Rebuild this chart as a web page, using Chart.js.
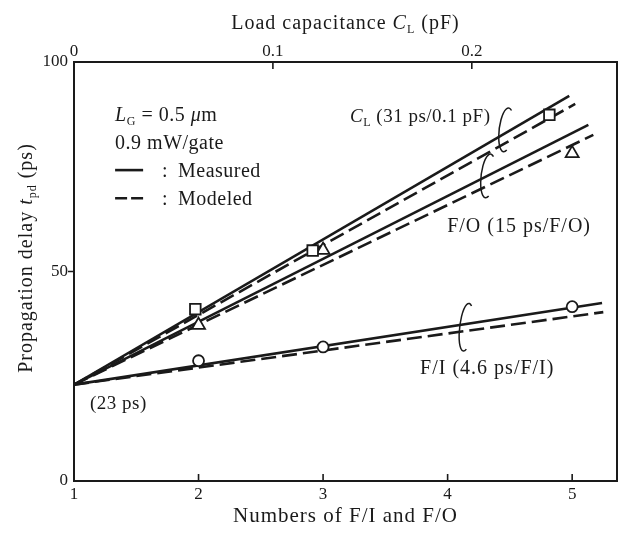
<!DOCTYPE html>
<html>
<head>
<meta charset="utf-8">
<script src="https://cdn.jsdelivr.net/npm/chart.js@4/dist/chart.umd.min.js"></script>
<style>
  html, body { margin: 0; padding: 0; background: #fff; }
  #wrap { width: 620px; height: 535px; }
</style>
</head>
<body>
<div id="wrap"><canvas id="c" width="620" height="535"></canvas></div>
<script>
// Measured delays (ps) versus fan count and load capacitance
const fanCounts = [2, 3, 5];
const fanOutDelay = [37.2, 55.1, 78.2];
const fanInDelay = [28.7, 32.0, 41.6];
const loadCaps = [0.061, 0.120, 0.239];          // pF
const loadDelay = [41.0, 55.0, 87.4];

// Straight-line fits: all start at the intrinsic delay
const intrinsicDelay = 23;
const loadFitEnd = [0.249, 0.252];               // pF: measured, modeled
const loadFitDelay = [91.9, 90.0];
const fanOutFitEnd = [5.13, 5.17];
const fanOutFitDelay = [85.0, 82.6];
const fanInFitEnd = [5.24, 5.25];
const fanInFitDelay = [42.5, 40.3];

// Axis ticks
const fanTicks = [1, 2, 3, 4, 5];
const capTicks = [0, 0.1, 0.2];
const delayTicks = [0, 50, 100];

const SERIF = '"Liberation Serif", "Times New Roman", serif';
const INK = '#1a1a1a';

function fitLine(x0, xs, ys, i) {
  return [{ x: x0, y: intrinsicDelay }, { x: xs[i], y: ys[i] }];
}
function pts(xs, ys) { return xs.map((x, i) => ({ x, y: ys[i] })); }

function lineSet(data, dashed, axis) {
  return {
    type: 'scatter', data, xAxisID: axis, showLine: true,
    borderColor: INK, borderWidth: 2.6, borderDash: dashed ? [15, 6] : [],
    pointRadius: 0, pointHoverRadius: 0, order: 2
  };
}
function markerSet(data, style, r, axis) {
  return {
    type: 'scatter', data, xAxisID: axis, showLine: false,
    pointStyle: style, pointRadius: r, pointHoverRadius: r,
    pointBackgroundColor: '#fff', pointBorderColor: INK, pointBorderWidth: 1.8,
    order: 0
  };
}

// Draws a run of text pieces: plain, italic, or subscript
function drawRich(ctx, parts, x, y, size, align) {
  const fontOf = p => (p.i ? 'italic ' : '') + (p.sub ? Math.round(size * 0.62) : size) + 'px ' + SERIF;
  let total = 0;
  parts.forEach(p => { ctx.font = fontOf(p); total += ctx.measureText(p.t).width; });
  let cx = align === 'center' ? x - total / 2 : x;
  ctx.textAlign = 'left';
  ctx.textBaseline = 'alphabetic';
  parts.forEach(p => {
    ctx.font = fontOf(p);
    ctx.fillText(p.t, cx, y + (p.sub ? size * 0.2 : 0));
    cx += ctx.measureText(p.t).width;
  });
}

function setSpacing(ctx, px) {
  try { ctx.letterSpacing = px + 'px'; } catch (e) {}
}

const decorations = {
  id: 'decorations',
  afterDraw(chart) {
    const ctx = chart.ctx;
    const sx = chart.scales.x, sx2 = chart.scales.x2, sy = chart.scales.y;
    const area = chart.chartArea;
    const X = v => sx.getPixelForValue(v), Y = v => sy.getPixelForValue(v);
    ctx.save();
    ctx.strokeStyle = INK;
    ctx.fillStyle = INK;

    // tick marks: inward on the bottom and top axes, outward on the left
    ctx.lineWidth = 1.6;
    ctx.beginPath();
    sx.ticks.forEach(t => {
      if (t.value === sx.min) return;
      const px = X(t.value);
      ctx.moveTo(px, area.bottom); ctx.lineTo(px, area.bottom - 7);
    });
    sx2.ticks.forEach(t => {
      if (t.value === sx2.min) return;
      const px = sx2.getPixelForValue(t.value);
      ctx.moveTo(px, area.top); ctx.lineTo(px, area.top + 7);
    });
    sy.ticks.forEach(t => {
      if (t.value === sy.min || t.value === sy.max) return;
      const py = Y(t.value);
      ctx.moveTo(area.left, py); ctx.lineTo(area.left - 6, py);
    });
    ctx.stroke();

    // group brackets around the fitted lines
    ctx.lineWidth = 1.5;
    [[4.47, 83.8, 7, 22], [4.325, 72.8, 7, 22], [4.149, 36.7, 6.5, 24]].forEach(([bx, by, rx, ry]) => {
      ctx.beginPath();
      ctx.ellipse(X(bx), Y(by), rx, ry, 0.12, -0.36 * Math.PI, 0.36 * Math.PI, true);
      ctx.stroke();
    });

    // text inside the plot
    setSpacing(ctx, 0.5);
    const S = 20;
    drawRich(ctx, [{ t: 'L', i: true }, { t: 'G', sub: true }, { t: ' = 0.5 ' }, { t: 'μ', i: true }, { t: 'm' }], X(1.33), Y(87.6) + 7, S);
    drawRich(ctx, [{ t: '0.9 mW/gate' }], X(1.33), Y(80.9) + 7, S);
    drawRich(ctx, [{ t: ':' }], X(1.707), Y(74.2) + 7, S);
    drawRich(ctx, [{ t: 'Measured' }], X(1.835), Y(74.2) + 7, S);
    drawRich(ctx, [{ t: ':' }], X(1.707), Y(67.5) + 7, S);
    drawRich(ctx, [{ t: 'Modeled' }], X(1.835), Y(67.5) + 7, S);
    drawRich(ctx, [{ t: '(23 ps)' }], X(1.128), Y(18.9) + 7, 19);
    drawRich(ctx, [{ t: 'C', i: true }, { t: 'L', sub: true }, { t: ' (31 ps/0.1 pF)' }], X(3.217), Y(87.35) + 7, 19);
    setSpacing(ctx, 1);
    drawRich(ctx, [{ t: 'F/O (15 ps/F/O)' }], X(3.996), Y(61.1) + 7, 20);
    drawRich(ctx, [{ t: 'F/I (4.6 ps/F/I)' }], X(3.779), Y(27.2) + 7, 20);

    // legend line samples
    ctx.lineWidth = 2.6;
    ctx.beginPath();
    ctx.moveTo(X(1.33), Y(74.2)); ctx.lineTo(X(1.555), Y(74.2));
    ctx.stroke();
    ctx.setLineDash([12, 4]);
    ctx.beginPath();
    ctx.moveTo(X(1.33), Y(67.5)); ctx.lineTo(X(1.555), Y(67.5));
    ctx.stroke();
    ctx.setLineDash([]);

    // axis titles
    setSpacing(ctx, 1);
    const cxp = (area.left + area.right) / 2;
    drawRich(ctx, [{ t: 'Load capacitance ' }, { t: 'C', i: true }, { t: 'L', sub: true }, { t: ' (pF)' }], cxp, 29, S, 'center');
    drawRich(ctx, [{ t: 'Numbers of F/I and F/O' }], cxp, 522, 21, 'center');
    ctx.translate(32, 258);
    ctx.rotate(-Math.PI / 2);
    drawRich(ctx, [{ t: 'Propagation delay ' }, { t: 't', i: true }, { t: 'pd', sub: true }, { t: ' (ps)' }], 0, 0, S, 'center');
    ctx.restore();
  }
};

const tickFont = { family: SERIF, size: 17 };
const borderStyle = { display: true, color: INK, width: 2 };

new Chart(document.getElementById('c'), {
  type: 'scatter',
  data: {
    datasets: [
      lineSet(fitLine(0, loadFitEnd, loadFitDelay, 0), false, 'x2'),
      lineSet(fitLine(0, loadFitEnd, loadFitDelay, 1), true, 'x2'),
      lineSet(fitLine(1, fanOutFitEnd, fanOutFitDelay, 0), false, 'x'),
      lineSet(fitLine(1, fanOutFitEnd, fanOutFitDelay, 1), true, 'x'),
      lineSet(fitLine(1, fanInFitEnd, fanInFitDelay, 0), false, 'x'),
      lineSet(fitLine(1, fanInFitEnd, fanInFitDelay, 1), true, 'x'),
      markerSet(pts(loadCaps, loadDelay), 'rect', 7.5, 'x2'),
      markerSet(pts(fanCounts, fanOutDelay), 'triangle', 7.5, 'x'),
      markerSet(pts(fanCounts, fanInDelay), 'circle', 5.5, 'x')
    ]
  },
  options: {
    responsive: false,
    animation: false,
    devicePixelRatio: 1,
    layout: { padding: 0, autoPadding: false },
    plugins: { legend: { display: false }, tooltip: { enabled: false } },
    scales: {
      x: {
        type: 'linear', position: 'bottom', min: 1, max: 5.36,
        afterBuildTicks: s => { s.ticks = fanTicks.map(v => ({ value: v })); },
        afterFit: s => { s.height = 54; },
        grid: { display: false, drawTicks: false },
        border: borderStyle,
        ticks: { font: tickFont, color: INK, padding: 3, maxRotation: 0 }
      },
      x2: {
        type: 'linear', position: 'top', min: 0, max: 0.273,
        afterBuildTicks: s => { s.ticks = capTicks.map(v => ({ value: v })); },
        afterFit: s => { s.height = 62; },
        grid: { display: false, drawTicks: false },
        border: borderStyle,
        ticks: { font: tickFont, color: INK, padding: 0, maxRotation: 0,
                 callback: v => (v === 0 ? '0' : v.toFixed(1)) }
      },
      y: {
        type: 'linear', position: 'left', min: 0, max: 100,
        afterBuildTicks: s => { s.ticks = delayTicks.map(v => ({ value: v })); },
        afterFit: s => { s.width = 74; },
        grid: { display: false, drawTicks: false },
        border: borderStyle,
        ticks: { font: tickFont, color: INK, padding: 6 }
      },
      y2: {
        type: 'linear', position: 'right', min: 0, max: 100,
        afterFit: s => { s.width = 3; },
        grid: { display: false, drawTicks: false },
        border: borderStyle,
        ticks: { display: false }
      }
    }
  },
  plugins: [decorations]
});
</script>
</body>
</html>
